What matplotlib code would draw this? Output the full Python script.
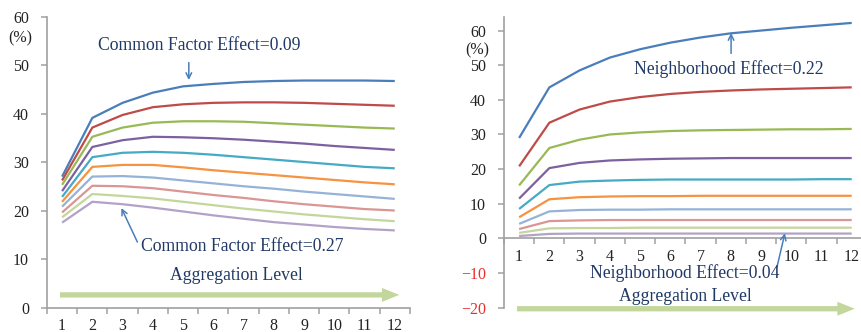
import numpy as np
import matplotlib
matplotlib.use("Agg")
import matplotlib.pyplot as plt

plt.rcParams['font.family'] = ['Liberation Serif', 'DejaVu Serif']

# -------------------
# DATA
# -------------------
levels = list(range(1, 13))

colors = ["#4A7EBB", "#BE4B48", "#98B954", "#7D60A0", "#46AAC5",
          "#F69240", "#95B3D7", "#D99694", "#C3D69B", "#B3A2C7"]

# left panel: common factor effect 0.09 ... 0.27
left_series = [
    [27.1, 39.2, 42.3, 44.4, 45.7, 46.2, 46.6, 46.8, 46.9, 46.9, 46.9, 46.8],
    [26.3, 37.2, 39.8, 41.4, 42.0, 42.3, 42.4, 42.4, 42.3, 42.1, 41.9, 41.7],
    [25.4, 35.3, 37.2, 38.2, 38.5, 38.5, 38.4, 38.1, 37.8, 37.5, 37.2, 37.0],
    [24.1, 33.2, 34.6, 35.3, 35.2, 35.0, 34.7, 34.3, 33.9, 33.4, 33.0, 32.6],
    [22.9, 31.1, 32.0, 32.2, 32.0, 31.6, 31.1, 30.6, 30.1, 29.6, 29.1, 28.8],
    [21.9, 29.1, 29.5, 29.5, 29.0, 28.4, 27.9, 27.4, 26.9, 26.4, 25.9, 25.5],
    [20.9, 27.1, 27.2, 26.9, 26.3, 25.7, 25.1, 24.6, 24.0, 23.5, 23.0, 22.5],
    [19.7, 25.2, 25.1, 24.7, 24.0, 23.3, 22.7, 22.0, 21.4, 20.9, 20.4, 20.1],
    [18.7, 23.5, 23.1, 22.6, 21.9, 21.2, 20.5, 19.9, 19.3, 18.8, 18.3, 17.9],
    [17.6, 21.9, 21.4, 20.7, 19.9, 19.1, 18.4, 17.7, 17.2, 16.7, 16.3, 16.0],
]

# right panel: neighborhood effect 0.22 ... 0.04
right_series = [
    [29.0, 43.6, 48.5, 52.2, 54.6, 56.5, 58.0, 59.2, 60.0, 60.8, 61.5, 62.2],
    [20.8, 33.4, 37.2, 39.5, 40.8, 41.7, 42.3, 42.7, 43.0, 43.2, 43.4, 43.6],
    [15.3, 26.1, 28.5, 30.0, 30.6, 31.0, 31.2, 31.3, 31.4, 31.5, 31.5, 31.6],
    [11.5, 20.3, 21.8, 22.5, 22.8, 23.0, 23.1, 23.2, 23.2, 23.2, 23.2, 23.2],
    [8.5, 15.4, 16.4, 16.7, 16.9, 17.0, 17.0, 17.0, 17.0, 17.0, 17.1, 17.1],
    [6.1, 11.3, 11.9, 12.1, 12.2, 12.2, 12.3, 12.3, 12.3, 12.3, 12.3, 12.3],
    [4.2, 7.8, 8.2, 8.3, 8.3, 8.4, 8.4, 8.4, 8.4, 8.4, 8.4, 8.4],
    [2.7, 5.0, 5.2, 5.3, 5.3, 5.3, 5.3, 5.3, 5.3, 5.3, 5.3, 5.3],
    [1.6, 2.9, 3.0, 3.0, 3.1, 3.1, 3.1, 3.1, 3.1, 3.1, 3.1, 3.1],
    [0.7, 1.3, 1.4, 1.4, 1.4, 1.4, 1.4, 1.4, 1.4, 1.4, 1.4, 1.4],
]

left_yticks = [0, 10, 20, 30, 40, 50, 60]
right_yticks = [-20, -10, 0, 10, 20, 30, 40, 50, 60]

text_color = "#1F3864"
arrow_color = "#4A7EBB"
spine_color = "#A0A0A0"
green_arrow = "#C3D69B"

# -------------------
# PLOT
# -------------------
fig = plt.figure(figsize=(8.62, 3.32), dpi=100)
axL = fig.add_axes([0.0545, 0.0723, 0.421, 0.8765])
axR = fig.add_axes([0.5847, 0.0732, 0.4209, 0.8765])


def style_axis(ax):
    for s in ["top", "right"]:
        ax.spines[s].set_visible(False)
    for s in ["left", "bottom"]:
        ax.spines[s].set_color(spine_color)
        ax.spines[s].set_linewidth(1.2)
    ax.set_xlim(0.5, 12.5)
    ax.set_xticks(levels)
    ax.set_xticks(np.arange(0.5, 13, 1), minor=True)
    ax.tick_params(axis="x", which="major", length=0, pad=7.5,
                   labelsize=11.5, labelcolor="#222222")
    ax.tick_params(axis="x", which="minor", length=4, width=1.1,
                   color=spine_color, direction="out")
    ax.tick_params(axis="y", length=4, width=1.1, color=spine_color,
                   pad=9, labelsize=11.5, labelcolor="#222222")


# left panel
for vals, c in zip(left_series, colors):
    axL.plot(levels, vals, color=c, lw=1.6, solid_capstyle="butt")
style_axis(axL)
axL.set_ylim(0, 60)
axL.set_yticks(left_yticks)
axL.text(-0.4, 55.5, "(%)", ha="center", va="center", fontsize=11.5,
         color="#222222", clip_on=False)

axL.annotate("", xy=(5.19, 47.0), xytext=(5.19, 50.6),
             arrowprops=dict(arrowstyle="->", color=arrow_color, lw=1.1,
                             shrinkA=0, shrinkB=0))
axL.text(5.52, 54.2, "Common Factor Effect=0.09", ha="center", va="center",
         fontsize=12.7, color=text_color)
axL.annotate("", xy=(2.96, 20.6), xytext=(3.49, 13.6),
             arrowprops=dict(arrowstyle="->", color=arrow_color, lw=1.1,
                             shrinkA=0, shrinkB=0))
axL.text(6.96, 12.6, "Common Factor Effect=0.27", ha="center", va="center",
         fontsize=12.7, color=text_color)
axL.text(6.75, 6.7, "Aggregation Level", ha="center", va="center",
         fontsize=12.7, color=text_color)
axL.annotate("", xy=(12.15, 2.7), xytext=(0.93, 2.7),
             arrowprops=dict(arrowstyle="simple,head_length=1.25,head_width=1.0,tail_width=0.38",
                             mutation_scale=10, color=green_arrow, lw=0,
                             shrinkA=0, shrinkB=0))

# right panel
for vals, c in zip(right_series, colors):
    axR.plot(levels, vals, color=c, lw=1.6, solid_capstyle="butt")
style_axis(axR)
axR.set_ylim(-20, 64)
axR.set_yticks(right_yticks)
axR.spines["bottom"].set_position(("data", 0))
axR.spines["left"].set_bounds(-20, 64)
for lbl, v in zip(axR.get_yticklabels(), right_yticks):
    if v < 0:
        lbl.set_color("#E8302A")
axR.text(-0.37, 54.2, "(%)", ha="center", va="center", fontsize=11.5,
         color="#222222", clip_on=False)

axR.annotate("", xy=(8.01, 59.3), xytext=(8.01, 53.4),
             arrowprops=dict(arrowstyle="->", color=arrow_color, lw=1.1,
                             shrinkA=0, shrinkB=0))
axR.text(7.93, 48.8, "Neighborhood Effect=0.22", ha="center", va="center",
         fontsize=12.7, color=text_color)
axR.annotate("", xy=(9.79, 1.5), xytext=(9.53, -8.2),
             arrowprops=dict(arrowstyle="->", color=arrow_color, lw=1.1,
                             shrinkA=0, shrinkB=0))
axR.text(6.49, -9.9, "Neighborhood Effect=0.04", ha="center", va="center",
         fontsize=12.7, color=text_color)
axR.text(6.5, -16.8, "Aggregation Level", ha="center", va="center",
         fontsize=12.7, color=text_color)
axR.annotate("", xy=(12.1, -20.3), xytext=(0.93, -20.3),
             annotation_clip=False,
             arrowprops=dict(arrowstyle="simple,head_length=1.25,head_width=1.0,tail_width=0.38",
                             mutation_scale=10, color=green_arrow, lw=0,
                             shrinkA=0, shrinkB=0, clip_on=False))

fig.savefig("out.png", dpi=100)
